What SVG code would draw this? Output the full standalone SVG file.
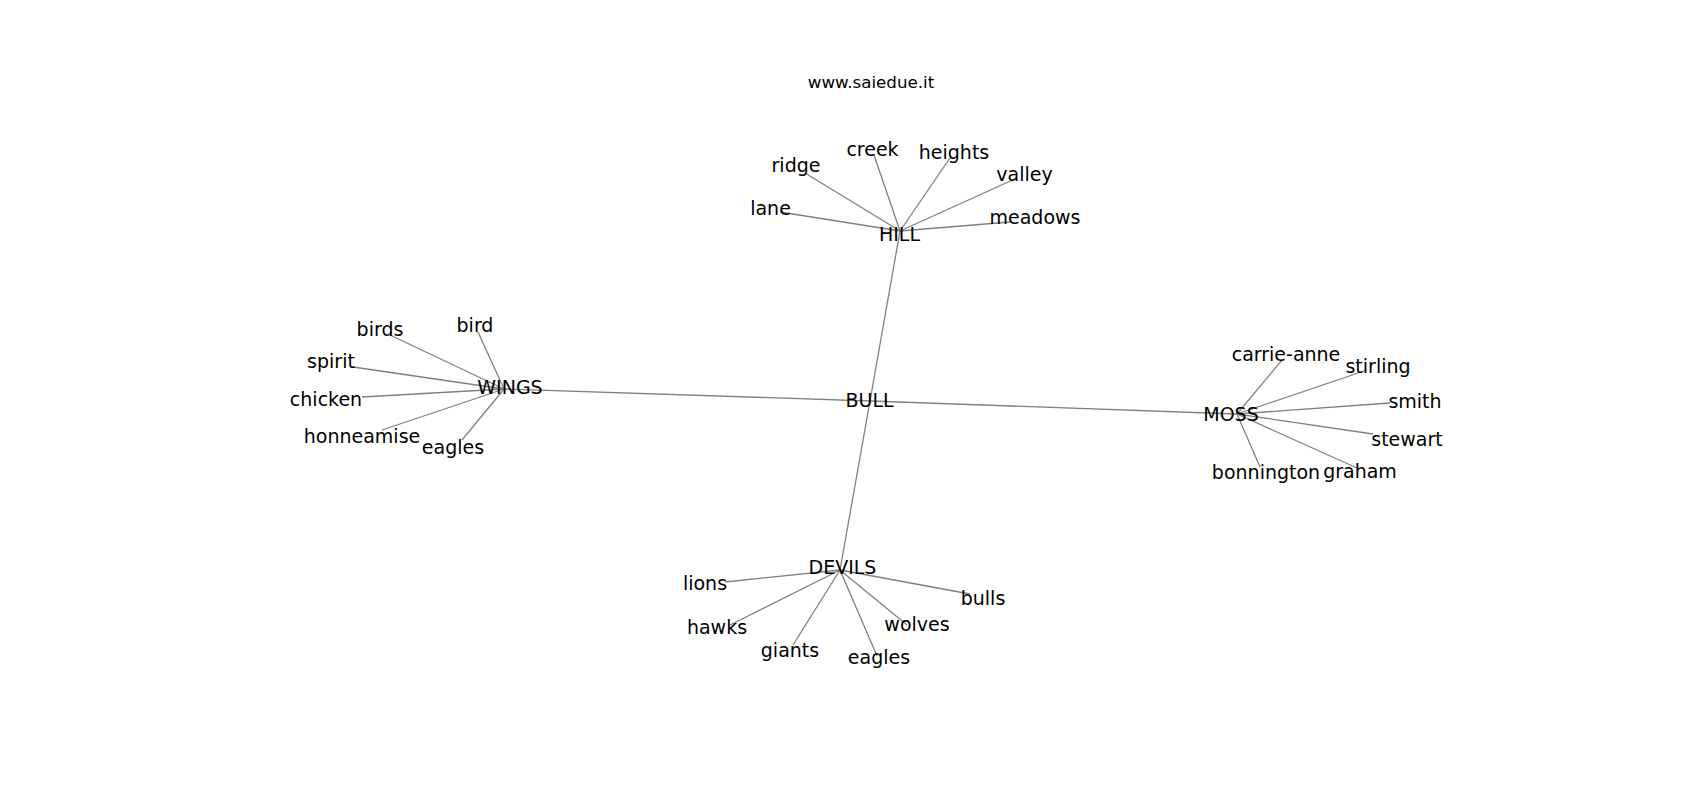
<svg xmlns="http://www.w3.org/2000/svg" width="1700" height="800" viewBox="0 0 1700 800">
<style>
.e{stroke:#808080;stroke-width:1.3;fill:none}
.t{font-family:"DejaVu Sans",sans-serif;font-size:19px;fill:#000;text-anchor:middle}
.title{font-family:"DejaVu Sans",sans-serif;font-size:16.7px;fill:#000;text-anchor:middle}
</style>
<rect width="1700" height="800" fill="#fff"/>
<text class="title" x="871" y="88">www.saiedue.it</text>
<g id="edges">
<line class="e" x1="870" y1="401" x2="900" y2="231"/>
<line class="e" x1="870" y1="401" x2="504" y2="389"/>
<line class="e" x1="870" y1="401" x2="1237" y2="414"/>
<line class="e" x1="870" y1="401" x2="840" y2="570"/>
<line class="e" x1="900" y1="231" x2="780" y2="212"/>
<line class="e" x1="900" y1="231" x2="805" y2="173"/>
<line class="e" x1="900" y1="231" x2="874" y2="155"/>
<line class="e" x1="900" y1="231" x2="950" y2="158"/>
<line class="e" x1="900" y1="231" x2="1017" y2="178"/>
<line class="e" x1="900" y1="231" x2="1010" y2="222"/>
<line class="e" x1="504" y1="389" x2="478" y2="332"/>
<line class="e" x1="504" y1="389" x2="390" y2="335"/>
<line class="e" x1="504" y1="389" x2="353" y2="367"/>
<line class="e" x1="504" y1="389" x2="362" y2="397"/>
<line class="e" x1="504" y1="389" x2="382" y2="430"/>
<line class="e" x1="504" y1="389" x2="462" y2="440"/>
<line class="e" x1="1237" y1="414" x2="1282" y2="360"/>
<line class="e" x1="1237" y1="414" x2="1367" y2="370"/>
<line class="e" x1="1237" y1="414" x2="1390" y2="403"/>
<line class="e" x1="1237" y1="414" x2="1373" y2="434"/>
<line class="e" x1="1237" y1="414" x2="1357" y2="468"/>
<line class="e" x1="1237" y1="414" x2="1260" y2="467"/>
<line class="e" x1="840" y1="570" x2="725" y2="582"/>
<line class="e" x1="840" y1="570" x2="730" y2="625"/>
<line class="e" x1="840" y1="570" x2="793" y2="645"/>
<line class="e" x1="840" y1="570" x2="877" y2="656"/>
<line class="e" x1="840" y1="570" x2="907" y2="625"/>
<line class="e" x1="840" y1="570" x2="970" y2="594"/>
</g>
<g id="n-bull"><text class="t" x="869.5" y="407">BULL</text></g>
<g id="n-hill"><text class="t" x="899.5" y="241">HILL</text></g>
<g id="n-lane"><text class="t" x="770.5" y="215">lane</text></g>
<g id="n-ridge"><text class="t" x="796" y="172">ridge</text></g>
<g id="n-creek"><text class="t" x="872.5" y="156">creek</text></g>
<g id="n-heights"><text class="t" x="954" y="159">heights</text></g>
<g id="n-valley"><text class="t" x="1024.5" y="181">valley</text></g>
<g id="n-meadows"><text class="t" x="1035" y="224">meadows</text></g>
<g id="n-wings"><text class="t" x="510" y="394">WINGS</text></g>
<g id="n-bird"><text class="t" x="475" y="332">bird</text></g>
<g id="n-birds"><text class="t" x="380" y="336">birds</text></g>
<g id="n-spirit"><text class="t" x="331" y="368">spirit</text></g>
<g id="n-chicken"><text class="t" x="326" y="406">chicken</text></g>
<g id="n-honneamise"><text class="t" x="362" y="443">honneamise</text></g>
<g id="n-eagles1"><text class="t" x="453" y="454">eagles</text></g>
<g id="n-moss"><text class="t" x="1231" y="421">MOSS</text></g>
<g id="n-carrie-anne"><text class="t" x="1286" y="361">carrie-anne</text></g>
<g id="n-stirling"><text class="t" x="1378" y="373">stirling</text></g>
<g id="n-smith"><text class="t" x="1415" y="408">smith</text></g>
<g id="n-stewart"><text class="t" x="1407" y="446">stewart</text></g>
<g id="n-graham"><text class="t" x="1360" y="478">graham</text></g>
<g id="n-bonnington"><text class="t" x="1266" y="479">bonnington</text></g>
<g id="n-devils"><text class="t" x="842.5" y="574">DEVILS</text></g>
<g id="n-lions"><text class="t" x="705" y="590">lions</text></g>
<g id="n-bulls"><text class="t" x="983" y="605">bulls</text></g>
<g id="n-hawks"><text class="t" x="717" y="634">hawks</text></g>
<g id="n-wolves"><text class="t" x="917" y="631">wolves</text></g>
<g id="n-giants"><text class="t" x="790" y="657">giants</text></g>
<g id="n-eagles2"><text class="t" x="879" y="664">eagles</text></g>
</svg>
